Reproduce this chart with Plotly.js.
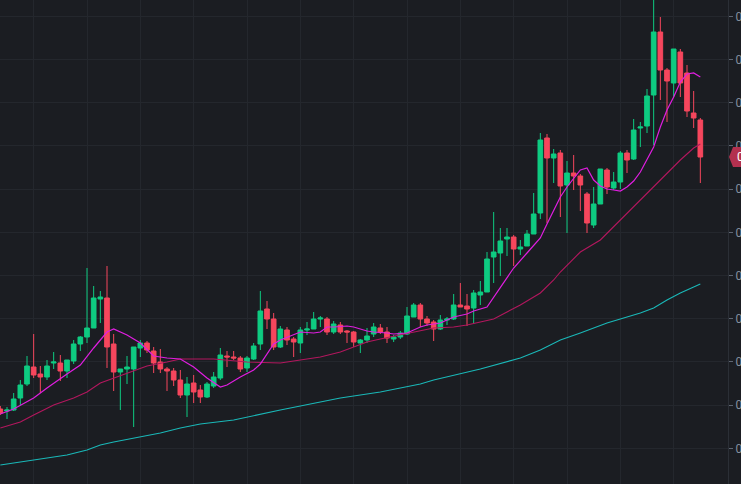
<!DOCTYPE html>
<html><head><meta charset="utf-8">
<script src="https://cdn.plot.ly/plotly-3.0.1.min.js"></script>
<style>html,body{margin:0;padding:0;background:#1b1d22;overflow:hidden}#chart{width:741px;height:484px}</style>
</head><body><div id="chart"></div>
<script>
// OHLC prices, one candle per period (oldest partially cut at left edge)
const openP = [0.0075,0.0073,0.0074,0.0086,0.0100,0.0117,0.0110,0.0107,0.0121,0.0121,
0.0113,0.0123,0.0140,0.0147,0.0156,0.0185,0.0186,0.0140,0.0112,0.0115,
0.0115,0.0136,0.0141,0.0133,0.0122,0.0115,0.0113,0.0104,0.0089,0.0101,
0.0094,0.0087,0.0098,0.0106,0.0128,0.0127,0.0126,0.0116,0.0125,0.0140,
0.0175,0.0165,0.0137,0.0154,0.0145,0.0141,0.0154,0.0155,0.0165,0.0165,
0.0152,0.0159,0.0153,0.0152,0.0141,0.0144,0.0150,0.0156,0.0152,0.0145,
0.0147,0.0150,0.0167,0.0179,0.0165,0.0162,0.0155,0.0164,0.0165,0.0179,
0.0178,0.0176,0.0189,0.0192,0.0227,0.0231,0.0245,0.0247,0.0235,0.0238,
0.0250,0.0271,0.0346,0.0326,0.0331,0.0299,0.0311,0.0308,0.0290,0.0259,
0.0280,0.0314,0.0296,0.0302,0.0331,0.0325,0.0356,0.0358,0.0389,0.0452,
0.0414,0.0401,0.0432,0.0411,0.0371,0.0364];
const highP = [0.0078,0.0077,0.0091,0.0104,0.0128,0.0150,0.0118,0.0124,0.0132,0.0129,
0.0124,0.0144,0.0148,0.0216,0.0198,0.0193,0.0218,0.0150,0.0115,0.0128,
0.0137,0.0144,0.0143,0.0137,0.0135,0.0117,0.0116,0.0114,0.0107,0.0109,
0.0099,0.0102,0.0112,0.0136,0.0133,0.0133,0.0128,0.0128,0.0141,0.0193,
0.0183,0.0171,0.0158,0.0157,0.0147,0.0157,0.0162,0.0172,0.0168,0.0167,
0.0163,0.0162,0.0154,0.0153,0.0145,0.0156,0.0161,0.0160,0.0157,0.0149,
0.0153,0.0177,0.0181,0.0181,0.0168,0.0164,0.0169,0.0167,0.0190,0.0201,
0.0190,0.0194,0.0203,0.0232,0.0272,0.0256,0.0256,0.0249,0.0244,0.0254,
0.0291,0.0351,0.0350,0.0335,0.0334,0.0323,0.0329,0.0310,0.0292,0.0297,
0.0315,0.0316,0.0312,0.0333,0.0334,0.0365,0.0362,0.0395,0.0489,0.0467,
0.0416,0.0435,0.0435,0.0419,0.0393,0.0366];
const lowP = [0.0069,0.0065,0.0073,0.0079,0.0098,0.0106,0.0091,0.0104,0.0115,0.0103,
0.0106,0.0120,0.0133,0.0141,0.0156,0.0161,0.0116,0.0093,0.0074,0.0100,
0.0057,0.0127,0.0131,0.0111,0.0111,0.0093,0.0098,0.0086,0.0067,0.0081,
0.0081,0.0086,0.0096,0.0104,0.0117,0.0124,0.0112,0.0112,0.0124,0.0134,
0.0155,0.0134,0.0136,0.0139,0.0127,0.0131,0.0149,0.0155,0.0157,0.0149,
0.0150,0.0150,0.0141,0.0137,0.0131,0.0141,0.0147,0.0150,0.0141,0.0142,
0.0145,0.0149,0.0167,0.0157,0.0158,0.0143,0.0154,0.0159,0.0164,0.0177,
0.0158,0.0161,0.0179,0.0192,0.0201,0.0208,0.0228,0.0218,0.0229,0.0238,
0.0250,0.0265,0.0261,0.0301,0.0267,0.0251,0.0294,0.0273,0.0251,0.0256,
0.0280,0.0290,0.0294,0.0295,0.0311,0.0324,0.0337,0.0351,0.0339,0.0384,
0.0362,0.0387,0.0387,0.0367,0.0356,0.0301];
const closeP = [0.0071,0.0074,0.0085,0.0099,0.0118,0.0109,0.0107,0.0118,0.0122,0.0113,
0.0124,0.0140,0.0147,0.0156,0.0186,0.0187,0.0137,0.0112,0.0115,0.0117,
0.0137,0.0141,0.0134,0.0121,0.0115,0.0113,0.0104,0.0089,0.0100,0.0092,
0.0087,0.0100,0.0107,0.0129,0.0127,0.0126,0.0115,0.0126,0.0138,0.0173,
0.0165,0.0137,0.0155,0.0144,0.0142,0.0154,0.0155,0.0165,0.0166,0.0152,
0.0160,0.0152,0.0152,0.0142,0.0144,0.0148,0.0157,0.0152,0.0146,0.0147,
0.0151,0.0168,0.0179,0.0165,0.0161,0.0155,0.0164,0.0165,0.0179,0.0177,
0.0175,0.0191,0.0192,0.0225,0.0232,0.0243,0.0247,0.0235,0.0237,0.0250,
0.0270,0.0344,0.0326,0.0330,0.0298,0.0311,0.0308,0.0299,0.0261,0.0280,
0.0315,0.0297,0.0302,0.0331,0.0324,0.0354,0.0357,0.0388,0.0452,0.0414,
0.0403,0.0435,0.0401,0.0373,0.0366,0.0327];

// Moving averages (candle index, price)
const maFastIdx = [0,2,5,7,10,12,14,16,17,19,21,23,25,27,29,31,33,34,36,38,39,40,41,42,44,45,47,48,49,50,52,53,55,56,58,59,61,62,63,64,66,67,68,70,71,73,75,77,79,81,82,83,84,85,86,87,88,89,90,91,92,93,94,95,96,97,98,99,100,101,102,103,104,105];
const maFastVal = [0.0070,0.0075,0.0086,0.0096,0.0110,0.0119,0.0136,0.0152,0.0155,0.0149,0.0141,0.0128,0.0126,0.0125,0.0117,0.0106,0.0097,0.0099,0.0107,0.0114,0.0120,0.0130,0.0140,0.0144,0.0149,0.0152,0.0151,0.0152,0.0157,0.0157,0.0158,0.0157,0.0153,0.0152,0.0151,0.0150,0.0151,0.0154,0.0157,0.0159,0.0161,0.0164,0.0167,0.0170,0.0173,0.0177,0.0197,0.0216,0.0231,0.0246,0.0260,0.0274,0.0287,0.0297,0.0306,0.0314,0.0316,0.0304,0.0298,0.0295,0.0294,0.0293,0.0297,0.0303,0.0312,0.0324,0.0337,0.0357,0.0374,0.0387,0.0402,0.0410,0.0411,0.0407];
const maMidIdx = [0,3,5,8,11,13,15,17,19,22,25,27,32,37,42,45,48,51,53,55,57,60,63,65,68,70,72,74,76,78,81,83,84,85,86,87,90,93,95,98,100,102,104,105];
const maMidVal = [0.0056,0.0062,0.0069,0.0079,0.0086,0.0092,0.0101,0.0106,0.0111,0.0118,0.0122,0.0125,0.0125,0.0122,0.0121,0.0124,0.0127,0.0132,0.0137,0.0142,0.0145,0.0149,0.0153,0.0156,0.0157,0.0159,0.0162,0.0165,0.0172,0.0179,0.0191,0.0204,0.0212,0.0219,0.0225,0.0232,0.0244,0.0264,0.0277,0.0297,0.0311,0.0324,0.0336,0.0340];
const maSlowIdx = [0,5,10,13,15,17,21,24,27,30,35,42,51,57,63,65,72,78,81,84,87,91,96,98,100,102,104,105];
const maSlowVal = [0.0019,0.0024,0.0029,0.0034,0.0039,0.0042,0.0047,0.0051,0.0056,0.0060,0.0064,0.0074,0.0086,0.0092,0.0100,0.0104,0.0115,0.0126,0.0134,0.0144,0.0151,0.0161,0.0171,0.0176,0.0184,0.0191,0.0197,0.0200];

const candleIdx = openP.map((_, i) => i);
const lastClose = closeP[closeP.length - 1];

const traces = [
  {type:'candlestick', x:candleIdx, open:openP, high:highP, low:lowP, close:closeP,
   increasing:{line:{color:'#0ecb81', width:1}, fillcolor:'#0ecb81'},
   decreasing:{line:{color:'#f6465d', width:1}, fillcolor:'#f6465d'},
   whiskerwidth:0, hoverinfo:'skip'},
  {type:'scatter', mode:'lines', x:maSlowIdx, y:maSlowVal, line:{color:'#1ab8b8', width:1.1}, hoverinfo:'skip'},
  {type:'scatter', mode:'lines', x:maMidIdx, y:maMidVal, line:{color:'#b3175e', width:1.1}, hoverinfo:'skip'},
  {type:'scatter', mode:'lines', x:maFastIdx, y:maFastVal, line:{color:'#e01ee0', width:1.2}, hoverinfo:'skip'}
];

const layout = {
  width:741, height:484,
  margin:{l:0, r:13, t:0, b:0, pad:0},
  paper_bgcolor:'#1b1d22', plot_bgcolor:'#1b1d22',
  showlegend:false,
  boxgap:0.3, boxgroupgap:0,
  xaxis:{range:[-0.05,109.15], tick0:5, dtick:8, showgrid:true, gridcolor:'#24272d', gridwidth:1,
         showticklabels:false, ticks:'', zeroline:false, showline:false, rangeslider:{visible:false}, fixedrange:true},
  yaxis:{side:'right', range:[0,0.0484], tick0:0.00357, dtick:0.00432, showgrid:true, gridcolor:'#24272d',
         ticks:'outside', ticklen:4, tickcolor:'#5e6673', tickfont:{family:'Roboto', size:12, color:'#848e9c'},
         showline:true, linecolor:'#2b2f36', linewidth:1, zeroline:false, automargin:false, fixedrange:true},
  shapes:[{type:'path', xref:'paper', yref:'y', layer:'above',
    path:'M 1.0014 '+lastClose+' L 1.0069 '+(lastClose+0.001)+' L 1.03 '+(lastClose+0.001)+' L 1.03 '+(lastClose-0.001)+' L 1.0069 '+(lastClose-0.001)+' Z',
    fillcolor:'#b3304f', line:{width:0}}],
  annotations:[{xref:'paper', yref:'y', x:1, y:lastClose, xanchor:'left', yanchor:'middle', xshift:7,
    text:lastClose.toFixed(4), showarrow:false, font:{family:'Roboto', size:12, color:'#ffffff'}}]
};

Plotly.newPlot('chart', traces, layout, {displayModeBar:false, staticPlot:true});
</script></body></html>
